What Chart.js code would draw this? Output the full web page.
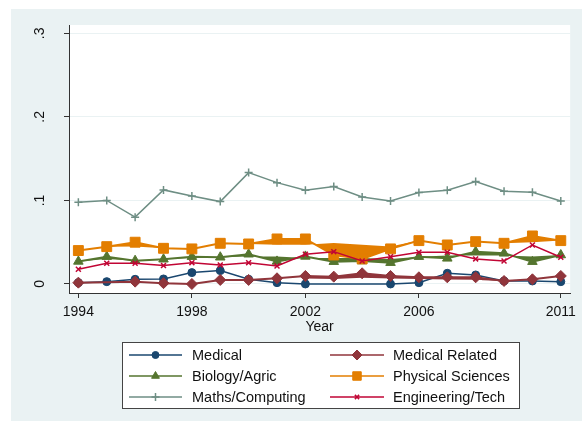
<!DOCTYPE html>
<html>
<head>
<meta charset="utf-8">
<script src="https://cdn.jsdelivr.net/npm/chart.js@4.4.1/dist/chart.umd.min.js"></script>
<style>
  html, body { margin: 0; padding: 0; background: #fff; }
  #wrap { width: 582px; height: 421px; }
</style>
</head>
<body>
<div id="wrap"><canvas id="c" width="582" height="421"></canvas></div>
<script>
const years = [1994, 1995, 1996, 1997, 1998, 1999, 2000, 2001, 2002, 2003, 2004, 2005, 2006, 2007, 2008, 2009, 2010, 2011];
const xTicks = [1994, 1998, 2002, 2006, 2011];
const yTicks = [0, 0.1, 0.2, 0.3];

const medical     = [0.0016, 0.0028, 0.0056, 0.006, 0.0136, 0.016, 0.0056, 0.0016, 0, null, null, 0, 0.0016, 0.0128, 0.0108, 0.0036, 0.0036, 0.0028];
const medRelated  = [0.0016, null, 0.0028, 0.001, 0, 0.0048, 0.0048, 0.0068, 0.0096, 0.0088, 0.0128, 0.0096, 0.008, 0.008, 0.008, 0.0036, 0.0056, 0.0096];
const biology     = [0.027, 0.0327, 0.0279, 0.0296, 0.0327, 0.032, 0.0356, 0.027, 0.033, 0.0267, 0.0275, 0.0255, 0.0327, 0.0307, 0.0387, 0.0367, 0.0267, 0.0347];
const physical    = [0.040, 0.0447, 0.050, 0.0427, 0.042, 0.0487, 0.0479, 0.0539, 0.0539, 0.0347, 0.030, 0.042, 0.0519, 0.0467, 0.0507, 0.0487, 0.0575, 0.0519];
const maths       = [0.0978, 0.100, 0.080, 0.1126, 0.1054, 0.0986, 0.1333, 0.1213, 0.1122, 0.1166, 0.1042, 0.0994, 0.1094, 0.1122, 0.1226, 0.111, 0.1098, 0.0994];
const engineering = [0.0176, 0.0248, 0.0248, 0.022, 0.0255, 0.0228, 0.0255, 0.0216, 0.0356, 0.0387, 0.0275, 0.0327, 0.038, 0.038, 0.030, 0.0275, 0.0467, 0.032];

// the smeared bands that the export left round some of the lines
const physicalEdge   = [0.040, 0.0447, 0.045, 0.0427, 0.042, 0.0487, 0.0479, 0.047, 0.047, 0.049, 0.047, 0.045, 0.0519, 0.0467, 0.0507, 0.0487, 0.050, 0.0519];
const biologyEdge    = [0.027, 0.030, 0.0279, 0.0296, 0.031, 0.032, 0.033, 0.033, 0.031, 0.031, 0.031, 0.030, 0.0327, 0.034, 0.034, 0.034, 0.033, 0.0347];
const medRelatedEdge = [null, null, null, null, null, null, null, null, 0.0065, 0.006, 0.0075, 0.0065, 0.006, 0.0055, 0.005, 0.0036, 0.0056, 0.0096];

const FONT = '"Liberation Sans", Arial, sans-serif';
const BG = '#eaf2f3';

const series = [
  { label: 'Medical', data: medical, color: '#1a476f', style: 'circle', r: 4, lr: 3.5, w: 1.5 },
  { label: 'Medical Related', data: medRelated, color: '#90353b', style: 'rectRot', r: 5.5, lr: 5, w: 2, edge: medRelatedEdge },
  { label: 'Biology/Agric', data: biology, color: '#55752f', style: 'triangle', r: 5.5, lr: 4.5, w: 2, edge: biologyEdge },
  { label: 'Physical Sciences', data: physical, color: '#e37e00', style: 'rect', r: 7, lr: 6, w: 2, edge: physicalEdge },
  { label: 'Maths/Computing', data: maths, color: '#6e8e84', style: 'cross', r: 4, lr: 4, w: 1.5 },
  { label: 'Engineering/Tech', data: engineering, color: '#c10534', style: 'crossRot', r: 3.5, lr: 3, w: 1.5 },
];

const pts = (arr) => years.map((y, i) => ({ x: y, y: arr[i] })).filter(p => p.y !== null);

// later series sit on top, so push them first
const datasets = [];
series.slice().reverse().forEach(s => {
  const idx = datasets.length;
  datasets.push({
    label: s.label, data: pts(s.data),
    borderColor: s.color, backgroundColor: s.color, borderWidth: s.w,
    pointStyle: s.style, pointRadius: s.r, pointBorderWidth: s.style.startsWith('cross') ? 1.5 : 1,
    pointBackgroundColor: s.color, pointBorderColor: s.color,
    spanGaps: true, fill: false, tension: 0,
  });
  if (s.edge) {
    datasets.push({
      label: s.label + ' edge', data: pts(s.edge),
      borderColor: 'transparent', borderWidth: 0, backgroundColor: s.color,
      pointRadius: 0, spanGaps: true, fill: { target: idx }, tension: 0,
    });
  }
});

const panelBg = {
  id: 'panelBg',
  beforeDraw(chart) {
    const { ctx, chartArea: a } = chart;
    ctx.save();
    ctx.fillStyle = '#fff';
    ctx.fillRect(0, 0, chart.width, chart.height);
    ctx.fillStyle = BG;
    ctx.fillRect(11, 9, chart.width - 11, chart.height - 9);
    ctx.fillStyle = '#fff';
    ctx.fillRect(a.left, a.top, a.right - a.left, a.bottom - a.top);
    ctx.restore();
  }
};

const yLabels = {
  id: 'yLabels',
  afterDraw(chart) {
    const { ctx } = chart;
    const sc = chart.scales.y;
    ctx.save();
    ctx.fillStyle = '#111';
    ctx.font = '14px ' + FONT;
    ctx.textAlign = 'center';
    ctx.textBaseline = 'middle';
    yTicks.forEach(v => {
      const y = sc.getPixelForValue(v);
      ctx.save();
      ctx.translate(40, y);
      ctx.rotate(-Math.PI / 2);
      ctx.fillText(v === 0 ? '0' : '.' + Math.round(v * 10), 0, 0);
      ctx.restore();
    });
    ctx.restore();
  }
};

const boxLegend = {
  id: 'boxLegend',
  afterDraw(chart) {
    const { ctx } = chart;
    ctx.save();
    ctx.fillStyle = '#fff';
    ctx.fillRect(122.5, 342.5, 397, 66);
    ctx.strokeStyle = '#444';
    ctx.lineWidth = 1;
    ctx.strokeRect(122.5, 342.5, 397, 66);
    const cols = [{ x0: 129, x1: 182, tx: 192 }, { x0: 330, x1: 384, tx: 393 }];
    const rows = [355, 376, 397];
    series.forEach((s, i) => {
      const c = cols[i % 2], y = rows[Math.floor(i / 2)];
      ctx.strokeStyle = s.color;
      ctx.lineWidth = 1.5;
      ctx.beginPath();
      ctx.moveTo(c.x0, y);
      ctx.lineTo(c.x1, y);
      ctx.stroke();
      ctx.fillStyle = s.color;
      ctx.lineWidth = s.style.startsWith('cross') ? 1.5 : 1;
      Chart.helpers.drawPoint(ctx, { pointStyle: s.style, radius: s.lr, rotation: 0, borderWidth: 1 }, (c.x0 + c.x1) / 2, y);
      ctx.fillStyle = '#111';
      ctx.font = '14.5px ' + FONT;
      ctx.textAlign = 'left';
      ctx.textBaseline = 'middle';
      ctx.fillText(s.label, c.tx, y + 1);
    });
    ctx.restore();
  }
};

new Chart(document.getElementById('c'), {
  type: 'line',
  data: { datasets },
  options: {
    responsive: false,
    animation: false,
    layout: { padding: { left: 11, top: 25, right: 8, bottom: 85 } },
    plugins: { legend: { display: false }, tooltip: { enabled: false }, filler: { propagate: false } },
    scales: {
      x: {
        type: 'linear', min: 1993.67, max: 2011.33,
        afterBuildTicks: (s) => { s.ticks = xTicks.map(v => ({ value: v })); },
        afterFit: (s) => { s.height = 43; },
        grid: { drawOnChartArea: false, tickLength: 5, tickColor: '#333' },
        border: { color: '#333' },
        ticks: { color: '#111', font: { family: FONT, size: 14 }, padding: 6, maxRotation: 0, autoSkip: false, callback: (v) => String(v) },
        title: { display: true, text: 'Year', color: '#111', font: { family: FONT, size: 14 }, padding: { top: 0, bottom: 0 } },
      },
      y: {
        min: -0.0108, max: 0.31,
        afterBuildTicks: (s) => { s.ticks = yTicks.map(v => ({ value: v })); },
        afterFit: (s) => { s.width = 58; },
        grid: { color: BG, tickLength: 5, tickColor: '#333' },
        border: { color: '#333' },
        ticks: { display: false },
      },
    },
  },
  plugins: [panelBg, yLabels, boxLegend],
});
</script>
</body>
</html>
